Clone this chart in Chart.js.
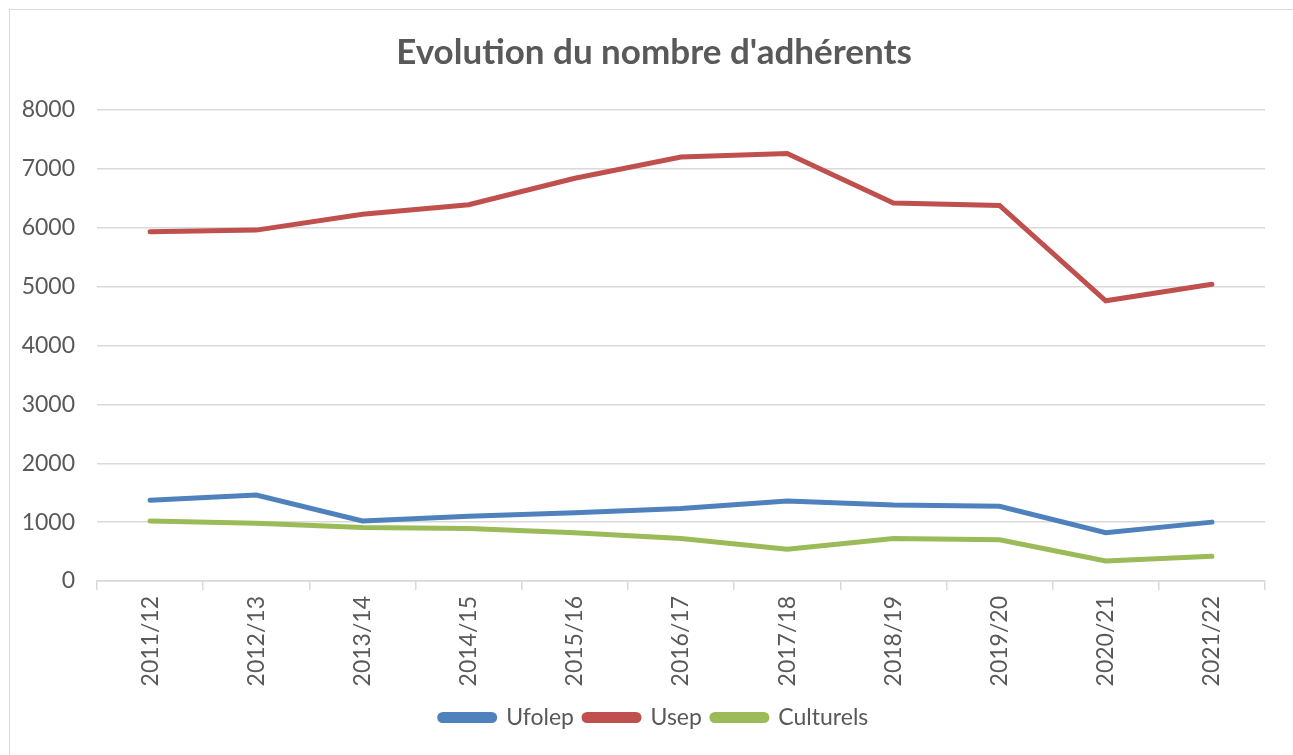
<!DOCTYPE html>
<html>
<head>
<meta charset="utf-8">
<script src="https://cdn.jsdelivr.net/npm/chart.js@4"></script>
<style>
    body { margin: 0; background: #fff; overflow: hidden; }
    #box {
        position: absolute; left: 9px; top: 9px;
        width: 1288px; height: 770px;
        border: 1px solid #d9d9d9;
    }
</style>
</head>
<body>
<div id="box"><canvas id="chart" width="1288" height="741"></canvas></div>
<script>
// data
const seasons = ["2011/12", "2012/13", "2013/14", "2014/15", "2015/16", "2016/17",
    "2017/18", "2018/19", "2019/20", "2020/21", "2021/22"];
const ufolep = [1370, 1460, 1020, 1100, 1160, 1230, 1360, 1290, 1270, 820, 1000];
const usep = [5930, 5960, 6230, 6390, 6840, 7200, 7260, 6420, 6380, 4760, 5040];
const culturels = [1020, 980, 910, 890, 820, 720, 540, 720, 700, 340, 420];
const yTicks = [0, 1000, 2000, 3000, 4000, 5000, 6000, 7000, 8000];

const textColor = "#595959";
const fontName = "Lato, 'Open Sans', sans-serif";

function serie(label, values, color) {
    return {
        label: label,
        data: values,
        borderColor: color,
        backgroundColor: color,
        borderWidth: 5,
        borderCapStyle: "round",
        pointRadius: 0,
        tension: 0
    };
}

const ctx = document.getElementById("chart").getContext("2d");
new Chart(ctx, {
    type: "line",
    data: {
        labels: seasons,
        datasets: [
            serie("Ufolep", ufolep, "#4f81bd"),
            serie("Usep", usep, "#c0504d"),
            serie("Culturels", culturels, "#9bbb59")
        ]
    },
    options: {
        responsive: false,
        animation: false,
        layout: { padding: { left: 0, right: 0, top: 0, bottom: 12 } },
        plugins: {
            title: {
                display: true,
                text: "Evolution du nombre d'adhérents",
                color: textColor,
                font: { family: fontName, size: 35, weight: "bold" },
                padding: { top: 22, bottom: 36 }
            },
            legend: {
                position: "bottom",
                labels: {
                    color: textColor,
                    font: { family: fontName, size: 23 },
                    boxWidth: 55,
                    boxHeight: 6,
                    useBorderRadius: true,
                    borderRadius: 3,
                    padding: 10
                }
            },
            tooltip: { enabled: false }
        },
        scales: {
            x: {
                offset: true,
                grid: {
                    offset: true,
                    drawOnChartArea: false,
                    drawTicks: true,
                    tickLength: 9,
                    color: "#d9d9d9",
                    lineWidth: 1.5
                },
                border: { color: "#d9d9d9", width: 1.5 },
                ticks: {
                    color: textColor,
                    font: { family: fontName, size: 23 },
                    minRotation: 90,
                    maxRotation: 90,
                    padding: 6,
                    autoSkip: false
                },
                afterFit: function (scale) { scale.height = 115; }
            },
            y: {
                min: 0,
                max: 8000,
                afterBuildTicks: function (scale) {
                    scale.ticks = yTicks.map(v => ({ value: v }));
                },
                grid: { color: "#d9d9d9", lineWidth: 1.5, drawTicks: false },
                border: { display: false },
                ticks: {
                    color: textColor,
                    font: { family: fontName, size: 23 },
                    padding: 22,
                    callback: v => String(v)
                },
                afterFit: function (scale) { scale.width = 87; }
            },
            // empty right axis, only keeps space on the right side
            yRight: {
                position: "right",
                min: 0,
                max: 8000,
                grid: { drawOnChartArea: false, drawTicks: false },
                border: { display: false },
                ticks: { display: false },
                afterFit: function (scale) { scale.width = 33; }
            }
        }
    }
});
</script>
</body>
</html>
